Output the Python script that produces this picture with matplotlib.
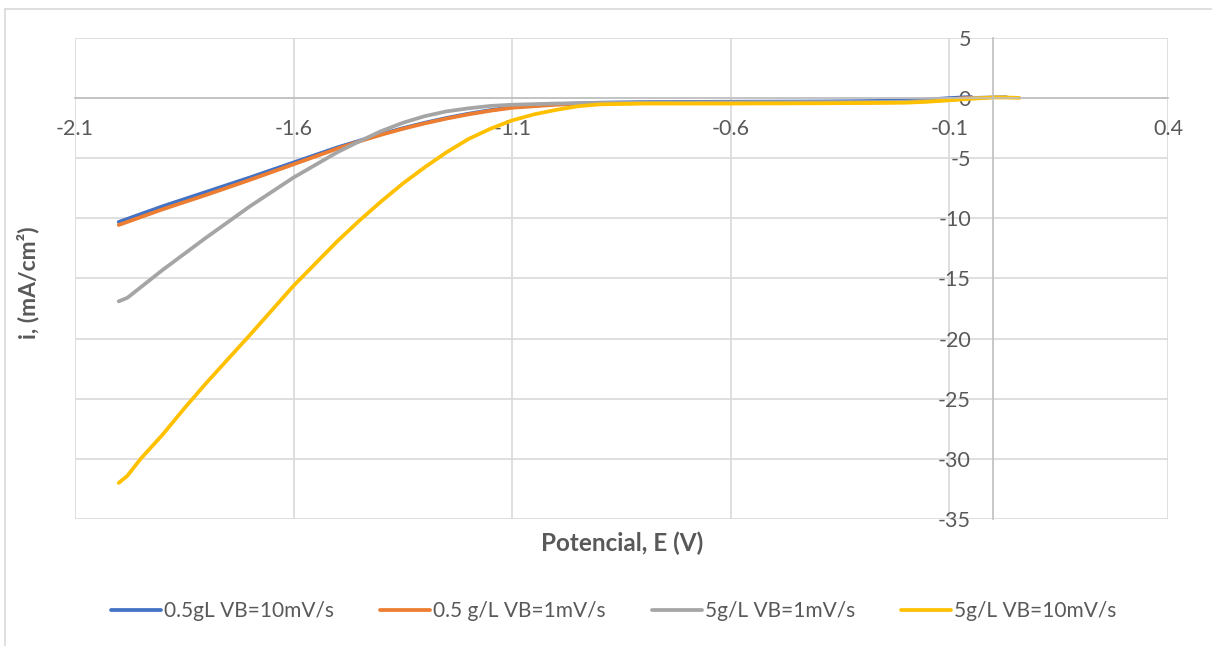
import matplotlib.pyplot as plt
from matplotlib.lines import Line2D

# potential (V) and current density (mA/cm2) for each run
x_blue = [-2.0, -1.9, -1.8, -1.7, -1.6, -1.5, -1.45, -1.4, -1.35, -1.3, -1.25, -1.2,
          -1.15, -1.1, -1.0, -0.9, -0.8, -0.6, -0.4, -0.3, -0.2, -0.15, -0.1, -0.05]
y_blue = [-10.3, -9.0, -7.8, -6.6, -5.35, -4.1, -3.55, -3.0, -2.5, -2.05, -1.65, -1.3,
          -1.0, -0.75, -0.5, -0.38, -0.33, -0.3, -0.28, -0.25, -0.2, -0.12, 0.0, 0.1]

x_orange = x_blue
y_orange = [-10.55, -9.25, -8.05, -6.8, -5.5, -4.2, -3.6, -3.05, -2.55, -2.1, -1.7, -1.35,
            -1.05, -0.8, -0.55, -0.45, -0.42, -0.42, -0.4, -0.38, -0.33, -0.25, -0.1, 0.05]

x_gray = [-2.0, -1.98, -1.9, -1.8, -1.7, -1.6, -1.5, -1.45, -1.4, -1.35, -1.3, -1.25,
          -1.2, -1.15, -1.1, -1.0, -0.9, -0.6, -0.3, -0.2, -0.1, -0.05, 0.0, 0.03]
y_gray = [-16.9, -16.6, -14.3, -11.6, -9.0, -6.6, -4.5, -3.6, -2.75, -2.05, -1.5, -1.1,
          -0.85, -0.65, -0.55, -0.45, -0.4, -0.35, -0.33, -0.3, -0.15, 0.0, 0.08, 0.1]

x_yellow = [-2.0, -1.98, -1.95, -1.9, -1.85, -1.8, -1.7, -1.6, -1.5, -1.45, -1.4, -1.35,
            -1.3, -1.25, -1.2, -1.15, -1.1, -1.05, -1.0, -0.95, -0.9, -0.8, -0.6, -0.4,
            -0.2, -0.15, -0.1, -0.05, 0.0, 0.03, 0.06]
y_yellow = [-32.0, -31.4, -30.0, -28.0, -25.8, -23.7, -19.7, -15.6, -11.9, -10.2, -8.6, -7.1,
            -5.75, -4.5, -3.4, -2.55, -1.85, -1.35, -0.98, -0.68, -0.52, -0.45, -0.45, -0.43,
            -0.38, -0.3, -0.18, -0.05, 0.05, 0.05, 0.02]

labels = ["0.5gL VB=10mV/s", "0.5 g/L VB=1mV/s", "5g/L VB=1mV/s", "5g/L VB=10mV/s"]
colors = ["#4472C4", "#ED7D31", "#A5A5A5", "#FFC000"]

x_ticks = [-2.1, -1.6, -1.1, -0.6, -0.1, 0.4]
y_ticks = [5, 0, -5, -10, -15, -20, -25, -30, -35]

plt.rcParams['font.family'] = ['Lato', 'DejaVu Sans']
plt.rcParams['axes.unicode_minus'] = False
text_color = "#595959"

fig = plt.figure(figsize=(12.12, 6.46), dpi=100)
W, H = 1212, 646
ax = fig.add_axes([75 / W, 1 - 519 / H, (1168 - 75) / W, (519 - 38) / H])

series = [(x_blue, y_blue), (x_orange, y_orange), (x_gray, y_gray), (x_yellow, y_yellow)]
for (xs, ys), lab, c in zip(series, labels, colors):
    ax.plot(xs, ys, color=c, lw=2.7, label=lab, solid_capstyle='round', solid_joinstyle='round')

ax.set_xlim(-2.1, 0.4)
ax.set_ylim(-35, 5)
ax.set_xticks(x_ticks)
ax.set_xticklabels([f"{t:g}" for t in x_ticks])
ax.set_yticks(y_ticks)
ax.grid(True, color="#D9D9D9", lw=1.2)
ax.set_axisbelow(True)

for s in ['top', 'right']:
    ax.spines[s].set_visible(False)
ax.spines['left'].set_position(('data', 0))
ax.spines['bottom'].set_position(('data', 0))
ax.spines['left'].set_color("#BFBFBF")
ax.spines['bottom'].set_color("#BFBFBF")
ax.spines['left'].set_linewidth(1.2)
ax.spines['bottom'].set_linewidth(1.2)
ax.tick_params(axis='both', length=0, labelsize=15.5, labelcolor=text_color)
ax.tick_params(axis='x', pad=15)
ax.tick_params(axis='y', pad=16)

fig.text(622 / W, 1 - 543 / H, "Potencial, E (V)", ha='center', va='center',
         fontsize=17.5, fontweight='bold', color=text_color)
fig.text(28 / W, 1 - 283 / H, "i, (mA/cm²)", ha='center', va='center', rotation=90,
         fontsize=16.5, fontweight='bold', color=text_color)

fig.legend(loc='center', bbox_to_anchor=(614 / W, 1 - 611 / H), ncol=4, frameon=False,
           fontsize=15, labelcolor=text_color, handlelength=2.4, handletextpad=0.15,
           columnspacing=2.2)

# outer chart border
fig.add_artist(Line2D([5 / W, 5 / W], [0, 1 - 9 / H], transform=fig.transFigure, color="#D9D9D9", lw=1.2))
fig.add_artist(Line2D([5 / W, 1], [1 - 9 / H, 1 - 9 / H], transform=fig.transFigure, color="#D9D9D9", lw=1.2))

fig.savefig("out.png", dpi=100)
